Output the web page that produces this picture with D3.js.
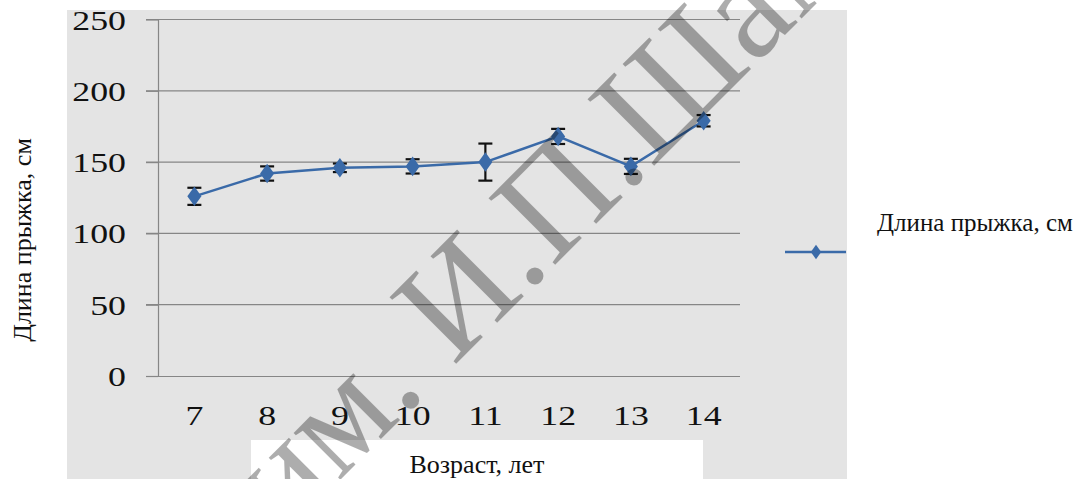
<!DOCTYPE html>
<html><head><meta charset="utf-8">
<script src="https://cdn.jsdelivr.net/npm/d3@7"></script>
<style>body{margin:0;background:#fff}svg{display:block}</style>
</head><body>
<svg id="c" width="1092" height="479"></svg>
<script>
const ages = ["7","8","9","10","11","12","13","14"];
const jumpLength = [126, 142, 146, 147, 150, 168, 147, 179];
const jumpError = [6, 5, 3, 5, 13, 5.3, 5.3, 4];
const yTicks = [0, 50, 100, 150, 200, 250];
const seriesName = "Длина прыжка, см";
const xTitle = "Возраст, лет";
const yTitle = "Длина прыжка, см";
const watermark = "им. И.П.Шамякина";

const svg = d3.select("#c");
const serif = "'Liberation Serif','Times New Roman',serif";
const blue = "#3a6aa8";

// backgrounds
svg.append("rect").attr("x",67).attr("y",10).attr("width",780).attr("height",469).attr("fill","#e4e4e4");
svg.append("rect").attr("x",251).attr("y",440).attr("width",452).attr("height",39).attr("fill","#fff");

const x = d3.scaleBand().domain(ages).range([158, 740]);
const y = d3.scaleLinear().domain([0, 250]).range([376, 19.5]);

// gridlines
svg.append("g").selectAll("line").data(yTicks.filter(d=>d>0)).join("line")
  .attr("x1",146).attr("x2",740).attr("y1",d=>y(d)).attr("y2",d=>y(d))
  .attr("stroke","#868686").attr("stroke-width",1.2);

// y axis
const gy = svg.append("g").attr("transform","translate(158,0)")
  .call(d3.axisLeft(y).tickValues(yTicks).tickSize(12).tickSizeOuter(0).tickPadding(20));
gy.select(".domain").attr("stroke","#868686").attr("stroke-width",1.2);
gy.selectAll(".tick line").attr("stroke","#868686").attr("stroke-width",1.2);
gy.selectAll(".tick text").attr("font-family",serif).attr("font-size",28).attr("fill","#111")
  .attr("transform","translate(-32,0) scale(1.28,1)").attr("x",0).attr("dy","0.34em");

// x axis
const gx = svg.append("g").attr("transform","translate(0,376)")
  .call(d3.axisBottom(x).tickSize(0).tickPadding(0));
gx.select(".domain").attr("d","M146,0.5H740").attr("stroke","#868686").attr("stroke-width",1.2);
gx.selectAll(".tick text").attr("font-family",serif).attr("font-size",28).attr("fill","#111")
  .attr("y",0).attr("dy",0).attr("transform","translate(0,49) scale(1.28,1)");

// line
const cx = d => x(d) + x.bandwidth()/2;
svg.append("path").datum(ages)
  .attr("d", d3.line().x(d=>cx(d)).y((d,i)=>y(jumpLength[i])))
  .attr("fill","none").attr("stroke",blue).attr("stroke-width",2.5);

// error bars
const eb = svg.append("g").attr("stroke","#111").attr("stroke-width",2.2);
ages.forEach((a,i)=>{
  const xc = cx(a), t = y(jumpLength[i]+jumpError[i]), b = y(jumpLength[i]-jumpError[i]);
  eb.append("line").attr("x1",xc).attr("x2",xc).attr("y1",t).attr("y2",b);
  eb.append("line").attr("x1",xc-7).attr("x2",xc+7).attr("y1",t).attr("y2",t);
  eb.append("line").attr("x1",xc-7).attr("x2",xc+7).attr("y1",b).attr("y2",b);
});

// markers
const diamond = d3.symbol().type(d3.symbolDiamond).size(110);
svg.append("g").selectAll("path").data(ages).join("path")
  .attr("d", diamond)
  .attr("transform",(d,i)=>`translate(${cx(d)},${y(jumpLength[i])}) scale(1.25,1)`)
  .attr("fill",blue);

// legend
svg.append("line").attr("x1",785).attr("x2",846).attr("y1",252).attr("y2",252)
  .attr("stroke",blue).attr("stroke-width",2.5);
svg.append("path").attr("d", d3.symbol().type(d3.symbolDiamond).size(60))
  .attr("transform","translate(816,252) scale(1.25,1)").attr("fill",blue);
svg.append("text").attr("x",877).attr("y",231).attr("font-family",serif).attr("font-size",25)
  .attr("fill","#111").text(seriesName);

// axis titles
svg.append("text").attr("x",477).attr("y",473).attr("text-anchor","middle")
  .attr("font-family",serif).attr("font-size",26).attr("fill","#111").text(xTitle);
svg.append("text").attr("transform","translate(31,240) rotate(-90)").attr("text-anchor","middle")
  .attr("font-family",serif).attr("font-size",26).attr("fill","#111").text(yTitle);

// watermark
svg.append("text").attr("transform","translate(283.5,536.5) rotate(-45)")
  .attr("font-family",serif).attr("font-size",144).attr("fill","#000").attr("fill-opacity",0.32)
  .text(watermark);
</script>
</body></html>
